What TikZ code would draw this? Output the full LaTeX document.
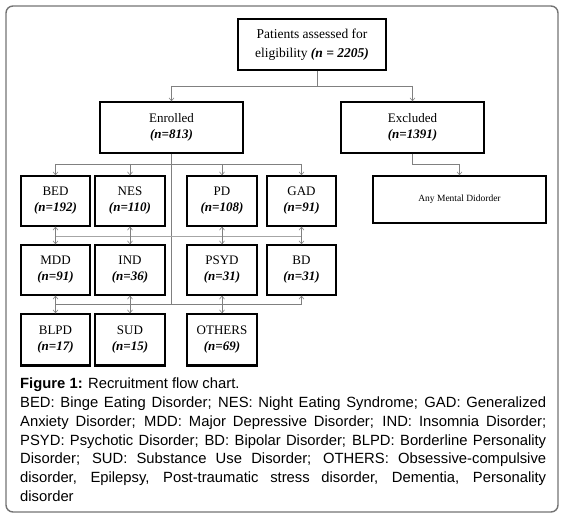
\documentclass[tikz,border=0pt]{standalone}
\usepackage{fontspec}
\setmainfont{Liberation Serif}
\newfontfamily\capfont{Liberation Sans}
\usetikzlibrary{arrows.meta}
\definecolor{conn}{gray}{0.5}
\definecolor{frame}{gray}{0.45}
\tikzset{
  box/.style={draw=black, line width=1.3pt, inner sep=0pt, align=center,
    font=\fontsize{13}{16}\selectfont, minimum width=69pt, minimum height=50pt},
  bigbox/.style={box, minimum width=143pt, minimum height=51pt},
  link/.style={draw=conn, line width=0.6pt},
  arr/.style={link, -{Straight Barb[length=3pt,width=5pt]}},
  darr/.style={link, {Straight Barb[length=3pt,width=5pt]}-{Straight Barb[length=3pt,width=5pt]}},
  shadowline/.style={line width=3pt, draw=black}
}
\newcommand{\nn}[1]{\textbf{\textit{#1}}}
\begin{document}
\begin{tikzpicture}[x=1pt,y=-1pt]
\useasboundingbox (0,0) rectangle (563,518);
\draw[frame, line width=1.4pt, rounded corners=7pt] (6,6) rectangle (558,512);

% boxes
\node[box, minimum width=148pt, minimum height=51pt, font=\fontsize{13.5}{19}\selectfont] (top) at (312,44.5)
  {Patients assessed for\\eligibility \nn{(n = 2205)}};
\node[bigbox] (enr) at (171.5,127.5) {Enrolled\\\nn{(n=813)}};
\node[bigbox] (exc) at (412.5,127.5) {Excluded\\\nn{(n=1391)}};
\node[box, minimum width=173pt, minimum height=47pt, font=\fontsize{9.5}{11}\selectfont] (any) at (459.5,199.5) {Any Mental Didorder};

\node[box] (bed) at (55.5,201) {BED\\\nn{(n=192)}};
\node[box, minimum width=70pt] (nes) at (130,201) {NES\\\nn{(n=110)}};
\node[box, minimum width=70pt] (pd) at (222,201) {PD\\\nn{(n=108)}};
\node[box] (gad) at (301.5,201) {GAD\\\nn{(n=91)}};

\node[box] (mdd) at (55.5,270) {MDD\\\nn{(n=91)}};
\node[box, minimum width=70pt] (ind) at (130,270) {IND\\\nn{(n=36)}};
\node[box, minimum width=70pt] (psyd) at (222,270) {PSYD\\\nn{(n=31)}};
\node[box] (bd) at (301.5,270) {BD\\\nn{(n=31)}};

\node[box, minimum height=51pt] (blpd) at (55.5,339.5) {BLPD\\\nn{(n=17)}};
\node[box, minimum width=70pt, minimum height=51pt] (sud) at (130,339.5) {SUD\\\nn{(n=15)}};
\node[box, minimum width=70pt, minimum height=51pt] (oth) at (222,339.5) {OTHERS\\\nn{(n=69)}};
\draw[shadowline] (blpd.south west) -- (blpd.south east);
\draw[shadowline] (sud.south west) -- (sud.south east);
\draw[shadowline] (oth.south west) -- (oth.south east);

% coordinates
\coordinate (tsplit) at (317,86);
\coordinate (esplit) at (171.5,164);
\coordinate (xsplit) at (412.5,164);
\coordinate (mid) at (171.5,236);
\coordinate (low) at (171.5,304);

% connectors
\draw[link] (top.south -| tsplit) -- (tsplit);
\draw[link] (enr.north |- tsplit) -- (exc.north |- tsplit);
\draw[arr] (enr.north |- tsplit) -- (enr.north);
\draw[arr] (exc.north |- tsplit) -- (exc.north);

\draw[link] (exc.south) -- (xsplit) -- (any.north |- xsplit);
\draw[arr] (any.north |- xsplit) -- (any.north);

\draw[link] (enr.south) -- (low);
\draw[link] (bed.north |- esplit) -- (gad.north |- esplit);
\foreach \b in {bed,nes,pd,gad}
  \draw[arr] (\b.north |- esplit) -- (\b.north);

\draw[link, draw=conn!70] (bed.south |- mid) -- (gad.south |- mid);
\draw[darr] (bed.south) -- (mdd.north);
\draw[darr] (nes.south) -- (ind.north);
\draw[darr] (pd.south) -- (psyd.north);
\draw[darr] (gad.south) -- (bd.north);

\draw[link] (mdd.south |- low) -- (bd.south |- low);
\draw[darr] (mdd.south) -- (blpd.north);
\draw[darr] (ind.south) -- (sud.north);
\draw[darr] (psyd.south) -- (oth.north);
\draw[arr] (bd.south |- low) -- (bd.south);

% caption
\node[anchor=north west, inner sep=0pt, text width=526pt, align=justify, font=\capfont\fontsize{14.8}{18.7}\selectfont] (cap) at (20,378)
  {\textbf{Figure 1:} Recruitment flow chart.\\
  BED: Binge Eating Disorder; NES: Night Eating Syndrome; GAD: Generalized\linebreak
  Anxiety Disorder; MDD: Major Depressive Disorder; IND: Insomnia Disorder;\linebreak
  PSYD: Psychotic Disorder; BD: Bipolar Disorder; BLPD: Borderline Personality\linebreak
  Disorder; SUD: Substance Use Disorder; OTHERS: Obsessive-compulsive\linebreak
  disorder, Epilepsy, Post-traumatic stress disorder, Dementia, Personality\linebreak
  disorder};
\end{tikzpicture}
\end{document}
